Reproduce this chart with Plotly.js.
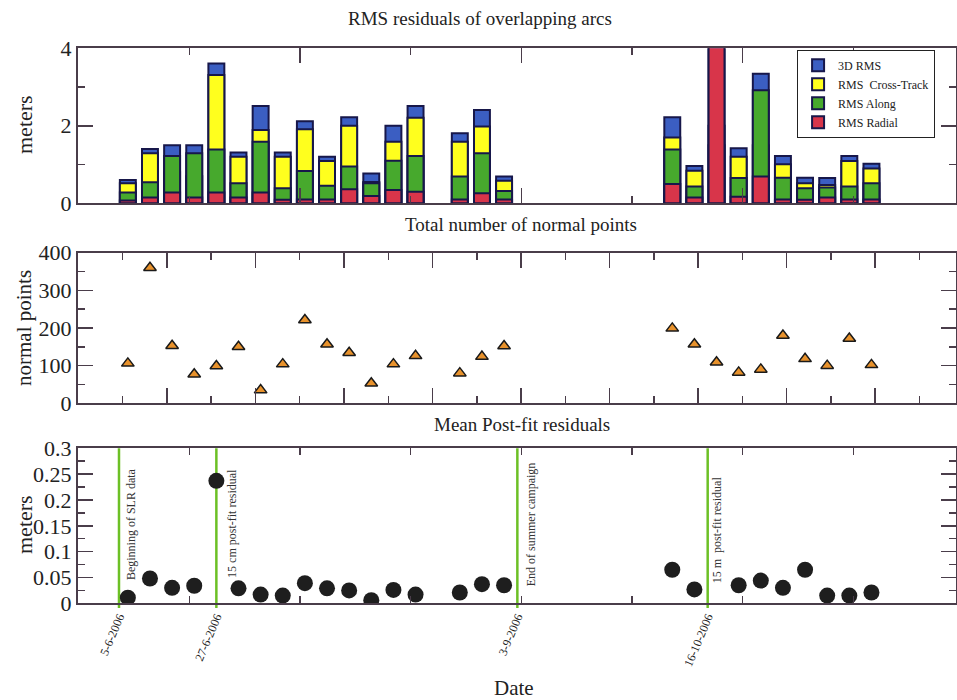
<!DOCTYPE html>
<html>
<head>
<meta charset="utf-8">
<script src="https://cdn.plot.ly/plotly-3.0.1.min.js"></script>
<style>html,body{margin:0;padding:0;background:#fff;}#chart{width:957px;height:700px;}</style>
</head>
<body>
<div id="chart"></div>
<script>
// ---- data ----
const arcDates = ['2006-06-07','2006-06-12','2006-06-17','2006-06-22','2006-06-27','2006-07-02','2006-07-07','2006-07-12','2006-07-17','2006-07-22','2006-07-27','2006-08-01','2006-08-06','2006-08-11','2006-08-21','2006-08-26','2006-08-31','2006-10-08','2006-10-13','2006-10-18','2006-10-23','2006-10-28','2006-11-02','2006-11-07','2006-11-12','2006-11-17','2006-11-22'];
const rms3D     = [0.60,1.40,1.50,1.50,3.61,1.31,2.51,1.31,2.12,1.20,2.22,0.77,2.00,2.51,1.81,2.41,0.69,2.22,0.96,4.60,1.42,3.34,1.22,0.66,0.65,1.22,1.02];
const rmsCross  = [0.52,1.29,0.80,0.70,3.31,1.20,1.89,1.20,1.91,1.09,2.00,0.55,1.59,2.21,1.59,1.98,0.58,1.70,0.84,1.50,1.20,1.50,1.01,0.52,0.47,1.09,0.90];
const rmsAlong  = [0.28,0.54,1.22,1.29,1.39,0.52,1.59,0.39,0.83,0.45,0.95,0.52,1.10,1.22,0.69,1.29,0.32,1.39,0.43,2.00,0.65,2.92,0.66,0.39,0.41,0.43,0.52];
const rmsRadial = [0.07,0.15,0.28,0.15,0.28,0.15,0.28,0.09,0.10,0.10,0.36,0.19,0.34,0.30,0.10,0.26,0.10,0.50,0.15,4.50,0.17,0.69,0.10,0.09,0.15,0.10,0.10];
const normalPoints = [106,360,153,77,99,150,35,104,221,157,134,53,104,126,80,124,152,199,157,109,82,90,180,118,100,172,102];
const meanResid = [0.011,0.048,0.030,0.034,0.237,0.029,0.017,0.015,0.039,0.029,0.025,0.006,0.026,0.017,0.021,0.037,0.035,0.065,0.027,null,0.035,0.044,0.030,0.065,0.015,0.015,0.021];
const eventDates  = ['2006-06-05','2006-06-27','2006-09-03','2006-10-16'];
const eventTicks  = ['5-6-2006','27-6-2006','3-9-2006','16-10-2006'];
const eventLabels = ['Beginning of SLR data','15 cm post-fit residual','End of summer campaign','15 m  post-fit residual'];
const seriesNames = ['3D RMS','RMS  Cross-Track','RMS Along','RMS Radial'];
const seriesColors = ['#3b5ec2','#ffff1e','#47a92d','#d8354a'];

// ---- style ----
const SERIF = 'Liberation Serif, Times New Roman, serif';
const AX = '#4a3d4a';
const DAY = 86400000;
const xRange = ['2006-05-26 17:46','2006-12-11 02:24'];

const rmsSeries = [rms3D, rmsCross, rmsAlong, rmsRadial];
const traces = rmsSeries.map((vals, i) => ({
  type: 'bar', x: arcDates, y: vals, name: seriesNames[i],
  xaxis: 'x', yaxis: 'y', width: 3.6 * DAY,
  marker: {color: seriesColors[i], line: {color: '#17174a', width: 2}},
  hoverinfo: 'x+y'
}));
traces.push({
  type: 'scatter', mode: 'markers', x: arcDates, y: normalPoints, xaxis: 'x2', yaxis: 'y2',
  showlegend: false,
  marker: {symbol: 'triangle-up', size: 11, color: '#e8922c', line: {color: '#1a1a1a', width: 1.5}}
});
traces.push({
  type: 'scatter', mode: 'markers', x: arcDates, y: meanResid, xaxis: 'x3', yaxis: 'y3',
  showlegend: false,
  marker: {symbol: 'circle', size: 16, color: '#1e1e1e'}
});

function baseX(extra) {
  return Object.assign({
    type: 'date', range: xRange, showgrid: false, zeroline: false,
    showline: true, linecolor: AX, linewidth: 2, mirror: 'ticks',
    ticks: 'inside', tickcolor: AX, tickwidth: 1.5, ticklen: 15,
    showticklabels: false
  }, extra);
}
function baseY(extra) {
  return Object.assign({
    showgrid: false, zeroline: false, showline: true, linecolor: AX, linewidth: 2,
    mirror: 'ticks', ticks: 'inside', tickcolor: AX, tickwidth: 1.5, ticklen: 15,
    tickfont: {family: SERIF, size: 22, color: '#222'}, fixedrange: true
  }, extra);
}
function label(text, xpx, ypx, size, angle) {
  return {text: text, xref: 'paper', yref: 'paper', x: (xpx - 78) / 878, y: 1 - ypx / 700,
    xanchor: 'center', yanchor: 'middle', textangle: angle || 0, showarrow: false,
    font: {family: SERIF, size: size, color: '#222'}};
}

const layout = {
  width: 957, height: 700,
  margin: {l: 78, r: 1, t: 0, b: 0},
  paper_bgcolor: '#fff', plot_bgcolor: '#fff',
  barmode: 'overlay',
  font: {family: SERIF, color: '#222'},
  showlegend: true,
  legend: {
    x: 0.819, y: 0.929, xanchor: 'left', yanchor: 'top',
    bgcolor: '#fff', bordercolor: '#222', borderwidth: 1,
    font: {family: SERIF, size: 12, color: '#222'}, tracegroupgap: 0
  },
  xaxis: baseX({anchor: 'y', tick0: '2006-07-15 21:40', dtick: 50 * DAY,
    minor: {ticks: 'inside', tick0: '2006-07-15 21:40', dtick: 25 * DAY, ticklen: 7, tickcolor: AX, tickwidth: 1.5}}),
  yaxis: baseY({domain: [0.7096, 0.931], range: [0, 4], dtick: 2,
    minor: {ticks: 'inside', dtick: 1, ticklen: 7, tickcolor: AX, tickwidth: 1.5}}),
  xaxis2: baseX({anchor: 'y2', tick0: '2006-06-15 20:00', dtick: 20 * DAY,
    minor: {ticks: 'inside', tick0: '2006-06-15 20:00', dtick: 10 * DAY, ticklen: 7, tickcolor: AX, tickwidth: 1.5}}),
  yaxis2: baseY({domain: [0.4239, 0.639], range: [0, 400], dtick: 100,
    minor: {ticks: 'inside', dtick: 50, ticklen: 7, tickcolor: AX, tickwidth: 1.5}}),
  xaxis3: baseX({anchor: 'y3', tickmode: 'array', tickvals: eventDates, ticktext: eventTicks,
    showticklabels: true, ticklen: 0, tickangle: -67,
    tickfont: {family: SERIF, size: 12, color: '#222'},
    minor: {ticks: 'inside', tick0: '2006-07-15 21:40', dtick: 25 * DAY, ticklen: 7, tickcolor: AX, tickwidth: 1.5}}),
  yaxis3: baseY({domain: [0.1381, 0.3596], range: [0, 0.3], dtick: 0.05,
    minor: {ticks: 'inside', dtick: 0.025, ticklen: 7, tickcolor: AX, tickwidth: 1.5}}),
  shapes: eventDates.map(d => ({
    type: 'line', xref: 'x3', yref: 'y3 domain', x0: d, x1: d, y0: -0.03, y1: 1,
    line: {color: '#6cc025', width: 2.5}, layer: 'below'
  })),
  annotations: [
    label('RMS residuals of overlapping arcs', 480, 19, 19),
    label('Total number of normal points', 521, 225, 19),
    label('Mean Post-fit residuals', 522, 425, 19),
    label('meters', 24, 125, 22, -90),
    label('normal points', 24, 328, 21, -90),
    label('meters', 24, 525, 22, -90),
    label('Date', 514, 688, 21)
  ].concat(eventDates.map((d, i) => ({
    text: eventLabels[i], xref: 'x3', yref: 'y3 domain', x: d,
    y: [0.137, 0.15, 0.099, 0.118][i], xanchor: 'left', yanchor: 'bottom',
    xshift: [3, 6, 5, 0][i], textangle: -90, showarrow: false,
    font: {family: SERIF, size: 12, color: '#333'}
  })))
};

Plotly.newPlot('chart', traces, layout, {displayModeBar: false, staticPlot: true});
</script>
</body>
</html>
